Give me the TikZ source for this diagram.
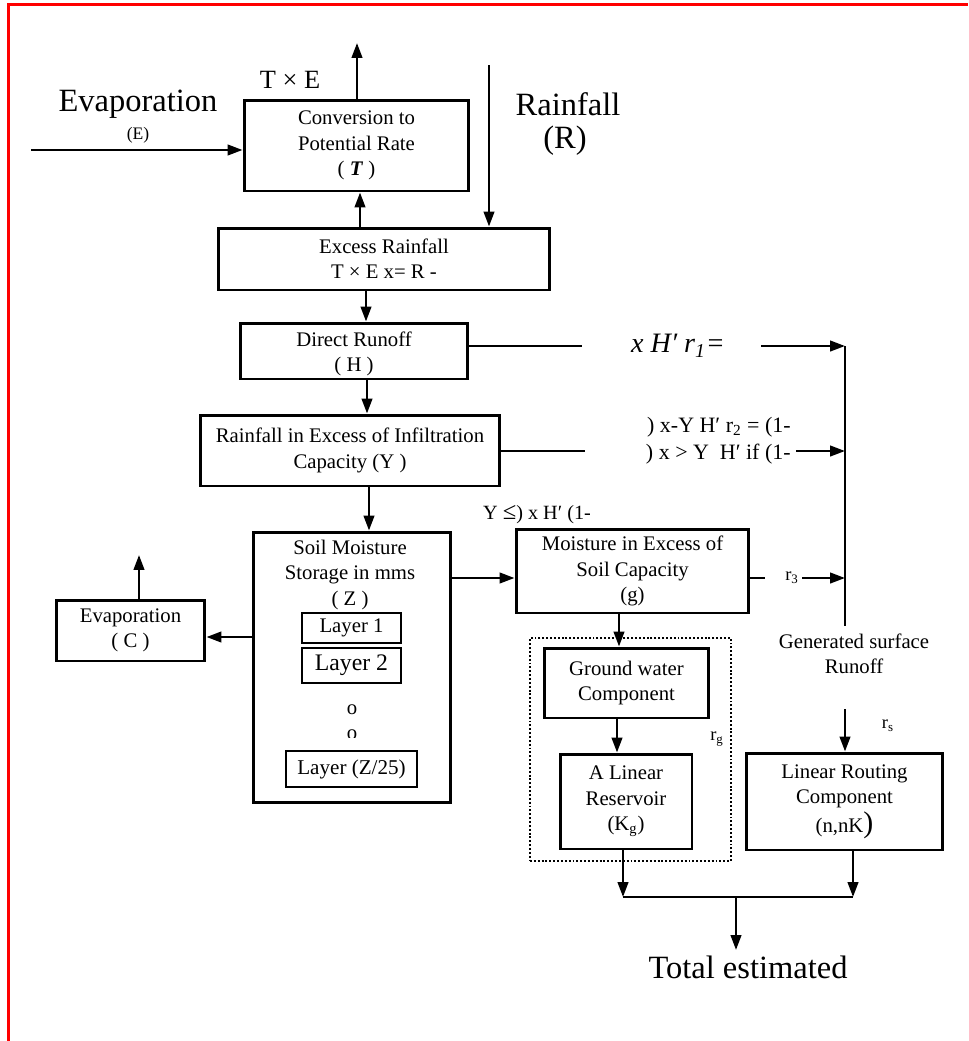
\documentclass[tikz,border=0pt]{standalone}
\usepackage{fontspec}
\setmainfont{Liberation Serif}
\usetikzlibrary{arrows.meta}

\newcommand{\boxfont}{\fontsize{11.8}{14.4}\selectfont}
\newcommand{\bigfont}{\fontsize{18.5}{22}\selectfont}
\newcommand{\rfont}{\fontsize{10.5}{12}\selectfont}

\begin{document}
\begin{tikzpicture}[x=0.02cm, y=-0.02cm,
		box/.style = {draw, line width=1.7pt, inner sep=0pt, align=center, font=\boxfont},
		layerbox/.style = {draw, line width=1.1pt, inner sep=0pt, align=center},
		txt/.style = {inner sep=0pt, align=center, font=\boxfont},
		line/.style = {line width=1.4pt},
		arr/.style = {line width=1.4pt, -{Triangle[length=8.5pt,width=6pt]}}]
	\useasboundingbox (0,0) rectangle (968,1041);
	\draw[red, line width=2.2pt] (8.5,1041) -- (8.5,4.5) -- (968,4.5);

	\node[txt, font=\bigfont] (evap) at (138,104) {Evaporation};
	\node[txt, font=\fontsize{10}{12}\selectfont] (evapE) at (138,135) {(E)};
	\node[txt, font=\fontsize{15}{18}\selectfont] (txe) at (290,80) {T × E};
	\node[txt, font=\bigfont] (rain) at (568,104) {Rainfall};
	\node[txt, font=\bigfont] (rainR) at (565,141) {(R)};

	\node[box, minimum width=4.5cm, minimum height=1.82cm] (conv) at (356.5,145.5) {Conversion to\\Potential Rate\\( \textbf{\textit{T}} )};
	\node[box, minimum width=6.64cm, minimum height=1.24cm] (excess) at (384,259) {Excess Rainfall\\T × E x= R -};
	\node[box, minimum width=4.56cm, minimum height=1.12cm] (direct) at (354,351) {};
	\node[txt] (directTxt) at (354,354) {Direct Runoff\\( H )};
	\node[box, minimum width=6cm, minimum height=1.42cm] (infil) at (350,450.5) {Rainfall in Excess of Infiltration\\Capacity (Y )};

	\node[box, minimum width=3.96cm, minimum height=5.42cm] (soil) at (352,667.5) {};
	\node[txt] (soilTxt) at (350,575) {Soil Moisture\\Storage in mms\\( Z )};
	\node[layerbox, minimum width=1.98cm, minimum height=0.6cm, font=\boxfont] (layer1) at (351.5,628) {Layer 1};
	\node[layerbox, minimum width=1.98cm, minimum height=0.7cm, font=\fontsize{13.5}{16}\selectfont] (layer2) at (351.5,665.5) {Layer 2};
	\node[txt] (dot1) at (352,710) {o};
	\begin{scope}
		\clip (300,720) rectangle (400,737);
		\node[txt] (dot2) at (352,735) {o};
	\end{scope}
	\node[layerbox, minimum width=2.62cm, minimum height=0.72cm, font=\fontsize{12}{14}\selectfont] (layerZ) at (351.5,769) {Layer (Z/25)};

	\node[box, minimum width=2.98cm, minimum height=1.22cm] (evapC) at (130.5,630.5) {Evaporation\\( C )};
	\node[box, minimum width=4.66cm, minimum height=1.68cm] (moist) at (632.5,571) {Moisture in Excess of\\Soil Capacity\\(g)};

	\node[draw, line width=1.1pt, dash pattern=on 1.1pt off 1.1pt, minimum width=4.02cm, minimum height=4.46cm] (gwgroup) at (630.5,749.5) {};
	\node[box, minimum width=3.3cm, minimum height=1.4cm] (ground) at (626.5,683) {Ground water\\Component};
	\node[box, minimum width=2.64cm, minimum height=1.9cm] (linres) at (626,801.5) {A Linear\\Reservoir\\(K\textsubscript{g})};
	\node[box, minimum width=3.94cm, minimum height=1.94cm] (routing) at (844.5,801.5) {Linear Routing\\Component\\[2pt](n,nK{\fontsize{17}{17}\selectfont )}};

	\node[txt] (gen) at (854,654) {Generated surface\\Runoff};
	\node[txt, font=\fontsize{16}{19}\selectfont\itshape] (rone) at (678,346) {x H′ r\textsubscript{1}=};
	\node[txt, font=\fontsize{12.5}{15.5}\selectfont, align=right, anchor=east] (rtwo) at (791,441) {) x-Y H′ r\textsubscript{2} = (1-\\) x > Y~~H′ if (1-};
	\node[txt, font=\fontsize{11.5}{13}\selectfont] (cond) at (537,515) {Y {\fontsize{14}{14}\selectfont ≤}) x H′ (1-};
	\node[txt, font=\rfont] (rthree) at (792,578) {r\textsubscript{3}};
	\node[txt, font=\rfont] (rg) at (717,739) {r\textsubscript{g}};
	\node[txt, font=\rfont] (rs) at (888,726) {r\textsubscript{s}};
	\node[txt, font=\bigfont, inner sep=3pt] (total) at (748,967) {Total estimated};

	\coordinate (evin) at (31,150);
	\coordinate (txeup) at (357,43);
	\coordinate (rainin) at (489,65);
	\coordinate (colA) at (360,0);
	\coordinate (colB) at (366,0);
	\coordinate (colC) at (367,0);
	\coordinate (colD) at (369,0);
	\coordinate (colE) at (619,0);
	\coordinate (colF) at (617,0);
	\coordinate (r1end) at (582,346);
	\coordinate (r1beg) at (761,346);
	\coordinate (gtop) at (845,346);
	\coordinate (gbot) at (845,626);
	\coordinate (r2end) at (585,451);
	\coordinate (r2beg) at (796,451);
	\coordinate (sm) at (0,578);
	\coordinate (r3end) at (765,578);
	\coordinate (r3beg) at (802,578);
	\coordinate (sc) at (0,637);
	\coordinate (cup) at (139,555);
	\coordinate (rsbeg) at (845,709);
	\coordinate (mg1) at (623,897);
	\coordinate (mg2) at (853,897);
	\coordinate (mgmid) at (736,897);

	\draw[arr] (evin) -- (evin -| conv.west);
	\draw[arr] (conv.north -| txeup) -- (txeup);
	\draw[arr] (rainin) -- (rainin |- excess.north);
	\draw[arr] (excess.north -| colA) -- (conv.south -| colA);
	\draw[arr] (excess.south -| colB) -- (direct.north -| colB);
	\draw[arr] (direct.south -| colC) -- (infil.north -| colC);
	\draw[arr] (infil.south -| colD) -- (soil.north -| colD);

	\draw[line] (direct.east |- r1end) -- (r1end);
	\draw[arr] (r1beg) -- (gtop);
	\draw[line] (gtop) -- (gbot);
	\draw[line] (infil.east |- r2end) -- (r2end);
	\draw[arr] (r2beg) -- (r2beg -| gtop);

	\draw[arr] (soil.east |- sm) -- (moist.west |- sm);
	\draw[line] (moist.east |- r3end) -- (r3end);
	\draw[arr] (r3beg) -- (r3beg -| gtop);
	\draw[arr] (soil.west |- sc) -- (evapC.east |- sc);
	\draw[arr] (evapC.north -| cup) -- (cup);

	\draw[arr] (moist.south -| colE) -- (ground.north -| colE);
	\draw[arr] (ground.south -| colF) -- (linres.north -| colF);
	\draw[arr] (rsbeg) -- (rsbeg |- routing.north);
	\draw[arr] (linres.south -| mg1) -- (mg1);
	\draw[arr] (routing.south -| mg2) -- (mg2);
	\draw[line] (mg1) -- (mg2);
	\draw[arr] (mgmid) -- (mgmid |- total.north);
\end{tikzpicture}
\end{document}
